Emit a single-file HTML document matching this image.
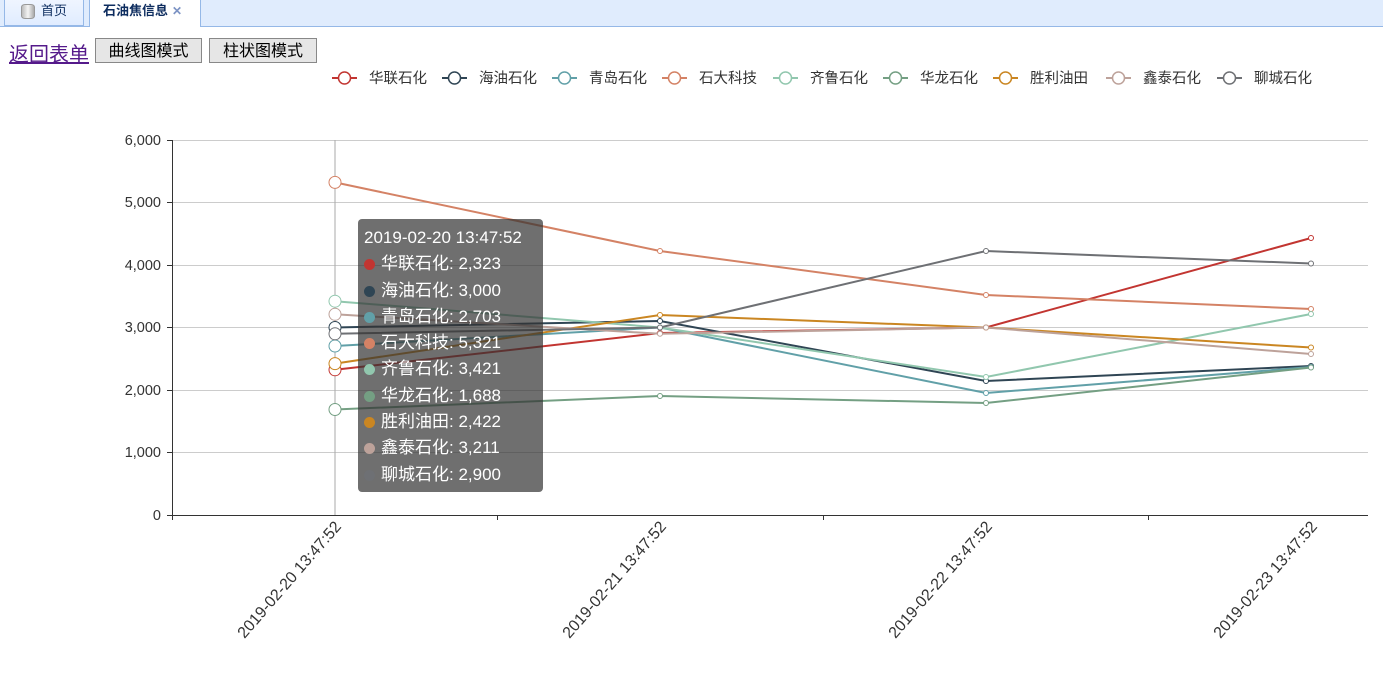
<!DOCTYPE html>
<html><head><meta charset="utf-8"><style>
body{margin:0;width:1383px;height:677px;overflow:hidden;background:#fff;font-family:"Liberation Sans","Noto Sans CJK SC",sans-serif;position:relative}
.bar{position:absolute;left:0;top:0;width:1383px;height:26px;background:#e0ecfd;border-bottom:1px solid #95b8e7}
.tab{position:absolute;top:0;height:26px;border:1px solid #95b8e7;border-top:none;font-size:13px;line-height:22px;color:#0e2d5f;box-sizing:border-box}
.t1{left:4px;width:80px;background:linear-gradient(#eff5ff,#e0ecff);padding-left:36px}
.t2{left:89px;width:112px;background:linear-gradient(#fff,#fff);height:27px;border-bottom:none;font-weight:bold;padding-left:13px;color:#0e2d5f}
.ic{position:absolute;left:16px;top:4px;width:14px;height:15px;border-radius:4px/3px;background:linear-gradient(90deg,#bbb,#f4f4f4,#aaa);border:1px solid #999;box-sizing:border-box}
.x{color:#7c93c4;font-size:12px;margin-left:4px}
a{position:absolute;left:9px;top:38px;font-size:20px;color:#551a8b;text-decoration:underline}
.btn{position:absolute;top:38px;height:25px;border:1px solid #888;background:#e6e6e6;font-size:16px;line-height:25px;text-align:center;box-sizing:border-box}
.tip{position:absolute;left:358px;top:219px;width:185px;height:273px;background:rgba(50,50,50,0.7);border-radius:4px;color:#fff;font-size:17px;line-height:26.3px;padding:6px 0 0 6px;box-sizing:border-box}
.d{display:inline-block;width:11px;height:11px;border-radius:50%;margin-right:6px;vertical-align:-1px}
</style></head><body>
<div class="bar"></div>
<div class="tab t1"><span class="ic"></span>首页</div>
<div class="tab t2">石油焦信息<span class="x">✕</span></div>
<a>返回表单</a>
<div class="btn" style="left:95px;width:107px">曲线图模式</div>
<div class="btn" style="left:209px;width:108px">柱状图模式</div>
<svg width="1383" height="677" style="position:absolute;left:0;top:0" font-family="Liberation Sans,Noto Sans CJK SC,sans-serif">
<g stroke="#ccc" stroke-width="1">
<line x1="172" y1="140.5" x2="1368" y2="140.5"/><line x1="172" y1="202.5" x2="1368" y2="202.5"/><line x1="172" y1="265.5" x2="1368" y2="265.5"/><line x1="172" y1="327.5" x2="1368" y2="327.5"/><line x1="172" y1="390.5" x2="1368" y2="390.5"/><line x1="172" y1="452.5" x2="1368" y2="452.5"/>
<line x1="335" y1="140" x2="335" y2="515" stroke="#aaa"/>
</g>
<g stroke="#333" stroke-width="1">
<line x1="172.5" y1="140" x2="172.5" y2="515"/><line x1="167" y1="515.5" x2="1368" y2="515.5"/>
<line x1="167" y1="140.5" x2="172" y2="140.5"/><line x1="167" y1="202.5" x2="172" y2="202.5"/><line x1="167" y1="265.5" x2="172" y2="265.5"/><line x1="167" y1="327.5" x2="172" y2="327.5"/><line x1="167" y1="390.5" x2="172" y2="390.5"/><line x1="167" y1="452.5" x2="172" y2="452.5"/>
<line x1="172.5" y1="515" x2="172.5" y2="520"/><line x1="497.5" y1="515" x2="497.5" y2="520"/><line x1="823.5" y1="515" x2="823.5" y2="520"/><line x1="1148.5" y1="515" x2="1148.5" y2="520"/>
</g>
<g font-size="14.5" fill="#333" text-anchor="end">
<text x="161" y="145">6,000</text><text x="161" y="207">5,000</text><text x="161" y="270">4,000</text><text x="161" y="332">3,000</text><text x="161" y="395">2,000</text><text x="161" y="457">1,000</text><text x="161" y="520">0</text>
</g>
<g font-size="16" fill="#333" text-anchor="end">
<text transform="translate(342,527) rotate(-49)">2019-02-20 13:47:52</text>
<text transform="translate(667,527) rotate(-49)">2019-02-21 13:47:52</text>
<text transform="translate(993,527) rotate(-49)">2019-02-22 13:47:52</text>
<text transform="translate(1318,527) rotate(-49)">2019-02-23 13:47:52</text>
</g>
<g fill="none" stroke-width="2">
<polyline stroke="#c23531" points="335,369.8 660,333 986,327.5 1311,238"/>
<polyline stroke="#2f4554" points="335,327.5 660,321 986,381 1311,366"/>
<polyline stroke="#61a0a8" points="335,346 660,327.5 986,393 1311,367"/>
<polyline stroke="#d48265" points="335,182.4 660,251 986,295 1311,309"/>
<polyline stroke="#91c7ae" points="335,301.2 660,327.5 986,377 1311,314"/>
<polyline stroke="#749f83" points="335,409.5 660,396 986,403 1311,367.5"/>
<polyline stroke="#ca8622" points="335,363.6 660,315 986,327.5 1311,347.5"/>
<polyline stroke="#bda29a" points="335,314.3 660,333.8 986,327.5 1311,354"/>
<polyline stroke="#6e7074" points="335,333.8 660,327.5 986,251 1311,263.5"/>
</g>
<g fill="#fff" stroke-width="1">
<g stroke="#c23531"><circle cx="335" cy="369.8" r="6"/><circle cx="660" cy="333" r="2.5"/><circle cx="986" cy="327.5" r="2.5"/><circle cx="1311" cy="238" r="2.5"/></g>
<g stroke="#2f4554"><circle cx="335" cy="327.5" r="6"/><circle cx="660" cy="321" r="2.5"/><circle cx="986" cy="381" r="2.5"/><circle cx="1311" cy="366" r="2.5"/></g>
<g stroke="#61a0a8"><circle cx="335" cy="346" r="6"/><circle cx="660" cy="327.5" r="2.5"/><circle cx="986" cy="393" r="2.5"/><circle cx="1311" cy="367" r="2.5"/></g>
<g stroke="#d48265"><circle cx="335" cy="182.4" r="6"/><circle cx="660" cy="251" r="2.5"/><circle cx="986" cy="295" r="2.5"/><circle cx="1311" cy="309" r="2.5"/></g>
<g stroke="#91c7ae"><circle cx="335" cy="301.2" r="6"/><circle cx="660" cy="327.5" r="2.5"/><circle cx="986" cy="377" r="2.5"/><circle cx="1311" cy="314" r="2.5"/></g>
<g stroke="#749f83"><circle cx="335" cy="409.5" r="6"/><circle cx="660" cy="396" r="2.5"/><circle cx="986" cy="403" r="2.5"/><circle cx="1311" cy="367.5" r="2.5"/></g>
<g stroke="#ca8622"><circle cx="335" cy="363.6" r="6"/><circle cx="660" cy="315" r="2.5"/><circle cx="986" cy="327.5" r="2.5"/><circle cx="1311" cy="347.5" r="2.5"/></g>
<g stroke="#bda29a"><circle cx="335" cy="314.3" r="6"/><circle cx="660" cy="333.8" r="2.5"/><circle cx="986" cy="327.5" r="2.5"/><circle cx="1311" cy="354" r="2.5"/></g>
<g stroke="#6e7074"><circle cx="335" cy="333.8" r="6"/><circle cx="660" cy="327.5" r="2.5"/><circle cx="986" cy="251" r="2.5"/><circle cx="1311" cy="263.5" r="2.5"/></g>
</g>
<g font-size="14.5" fill="#333" stroke-width="2">
<g stroke="#c23531"><line x1="332" y1="78" x2="357" y2="78"/><circle cx="344.5" cy="78" r="6" fill="#fff" stroke-width="1.5"/></g><text x="369" y="83">华联石化</text>
<g stroke="#2f4554"><line x1="442" y1="78" x2="467" y2="78"/><circle cx="454.5" cy="78" r="6" fill="#fff" stroke-width="1.5"/></g><text x="479" y="83">海油石化</text>
<g stroke="#61a0a8"><line x1="552" y1="78" x2="577" y2="78"/><circle cx="564.5" cy="78" r="6" fill="#fff" stroke-width="1.5"/></g><text x="589" y="83">青岛石化</text>
<g stroke="#d48265"><line x1="662" y1="78" x2="687" y2="78"/><circle cx="674.5" cy="78" r="6" fill="#fff" stroke-width="1.5"/></g><text x="699" y="83">石大科技</text>
<g stroke="#91c7ae"><line x1="773" y1="78" x2="798" y2="78"/><circle cx="785.5" cy="78" r="6" fill="#fff" stroke-width="1.5"/></g><text x="810" y="83">齐鲁石化</text>
<g stroke="#749f83"><line x1="883" y1="78" x2="908" y2="78"/><circle cx="895.5" cy="78" r="6" fill="#fff" stroke-width="1.5"/></g><text x="920" y="83">华龙石化</text>
<g stroke="#ca8622"><line x1="993" y1="78" x2="1018" y2="78"/><circle cx="1005.5" cy="78" r="6" fill="#fff" stroke-width="1.5"/></g><text x="1030" y="83">胜利油田</text>
<g stroke="#bda29a"><line x1="1106" y1="78" x2="1131" y2="78"/><circle cx="1118.5" cy="78" r="6" fill="#fff" stroke-width="1.5"/></g><text x="1143" y="83">鑫泰石化</text>
<g stroke="#6e7074"><line x1="1217" y1="78" x2="1242" y2="78"/><circle cx="1229.5" cy="78" r="6" fill="#fff" stroke-width="1.5"/></g><text x="1254" y="83">聊城石化</text>
</g>
</svg>
<div class="tip">2019-02-20 13:47:52<br>
<span class="d" style="background:#c23531"></span>华联石化: 2,323<br>
<span class="d" style="background:#2f4554"></span>海油石化: 3,000<br>
<span class="d" style="background:#61a0a8"></span>青岛石化: 2,703<br>
<span class="d" style="background:#d48265"></span>石大科技: 5,321<br>
<span class="d" style="background:#91c7ae"></span>齐鲁石化: 3,421<br>
<span class="d" style="background:#749f83"></span>华龙石化: 1,688<br>
<span class="d" style="background:#ca8622"></span>胜利油田: 2,422<br>
<span class="d" style="background:#bda29a"></span>鑫泰石化: 3,211<br>
<span class="d" style="background:#6e7074"></span>聊城石化: 2,900</div>
</body></html>
